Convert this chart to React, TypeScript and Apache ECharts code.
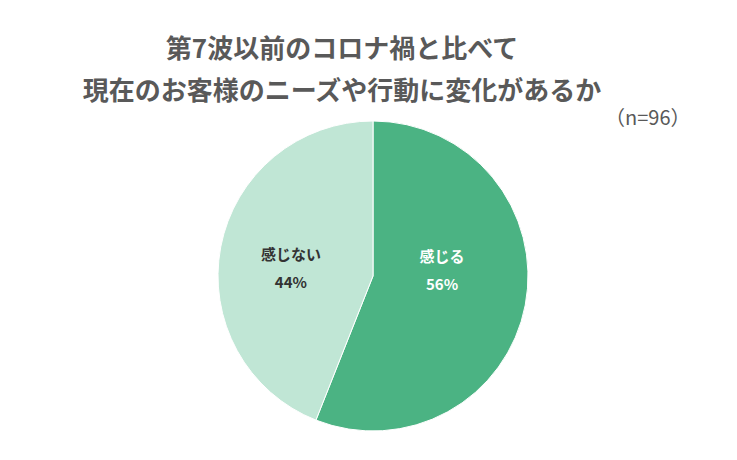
import React, { useEffect, useRef } from 'react';
import * as echarts from 'echarts';

const TITLE_LINES = ['第7波以前のコロナ禍と比べて', '現在のお客様のニーズや行動に変化があるか'];
const SAMPLE_NOTE = '（n=96）';
const CATEGORIES = ['感じる', '感じない'];
const VALUES = [56, 44];

const COLORS = {
  TEXT: '#595959',
  DARK: '#4bb383',
  LIGHT: '#c0e6d5',
};

const FONT = '"Noto Sans CJK JP", "Noto Sans", sans-serif';

const App = (): JSX.Element => {
  const divEL = useRef<HTMLDivElement>(null);

  useEffect(() => {
    document.body.style.margin = '0';
    const instance = echarts.init(divEL.current as any, null, { renderer: 'svg' });

    const option: echarts.EChartsOption = {
      animation: false,
      backgroundColor: '#ffffff',
      title: [
        {
          text: TITLE_LINES.join('\n'),
          left: 337,
          top: 20,
          textAlign: 'center',
          textStyle: {
            fontFamily: FONT,
            fontSize: 26,
            fontWeight: 'bold',
            color: COLORS.TEXT,
            lineHeight: 42,
          },
        },
        {
          text: SAMPLE_NOTE,
          left: 600,
          top: 101,
          textStyle: {
            fontFamily: FONT,
            fontSize: 20,
            fontWeight: 'normal',
            color: COLORS.TEXT,
          },
        },
      ],
      series: [
        {
          type: 'pie',
          center: [373, 276],
          radius: 155,
          startAngle: 90,
          clockwise: true,
          silent: true,
          itemStyle: {
            borderColor: '#ffffff',
            borderWidth: 1,
          },
          label: {
            position: 'inside',
            fontFamily: FONT,
            fontSize: 15,
            fontWeight: 'bold',
            lineHeight: 28,
            formatter: '{b}\n{c}%',
          },
          labelLine: { show: false },
          data: [
            {
              name: CATEGORIES[0],
              value: VALUES[0],
              itemStyle: { color: COLORS.DARK },
              label: { color: '#ffffff', offset: [-10, -22] },
            },
            {
              name: CATEGORIES[1],
              value: VALUES[1],
              itemStyle: { color: COLORS.LIGHT },
              label: { color: '#333333', offset: [-3, 7] },
            },
          ],
        },
      ],
    };

    instance.setOption(option);

    return () => {
      instance.dispose();
    };
  }, []);

  return <div ref={divEL} style={{ width: 737, height: 460 }}></div>;
};

export default App;
